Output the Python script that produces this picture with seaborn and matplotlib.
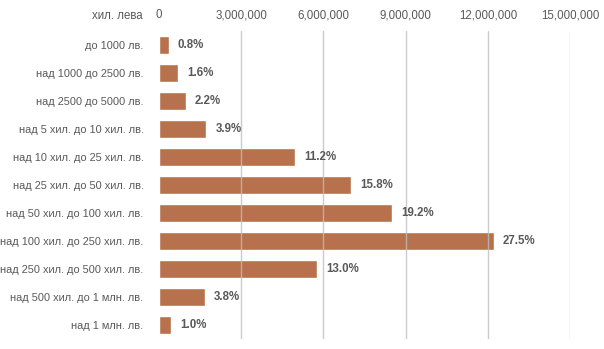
import matplotlib
matplotlib.use("Agg")
import matplotlib.pyplot as plt
import matplotlib.ticker as mticker
import seaborn as sns
import pandas as pd

categories = [
    "до 1000 лв.",
    "над 1000 до 2500 лв.",
    "над 2500 до 5000 лв.",
    "над 5 хил. до 10 хил. лв.",
    "над 10 хил. до 25 хил. лв.",
    "над 25 хил. до 50 хил. лв.",
    "над 50 хил. до 100 хил. лв.",
    "над 100 хил. до 250 хил. лв.",
    "над 250 хил. до 500 хил. лв.",
    "над 500 хил. до 1 млн. лв.",
    "над 1 млн. лв.",
]
# amounts in thousand leva
amounts = [355000, 710000, 977000, 1730000, 4970000, 7020000,
           8520000, 12210000, 5770000, 1690000, 444000]
shares = ["0.8%", "1.6%", "2.2%", "3.9%", "11.2%", "15.8%",
          "19.2%", "27.5%", "13.0%", "3.8%", "1.0%"]
xticks = [0, 3000000, 6000000, 9000000, 12000000, 15000000]

df = pd.DataFrame({"category": categories, "amount": amounts})

sns.set_theme(style="white")
plt.rcParams["font.family"] = ["Liberation Sans", "DejaVu Sans"]

fig = plt.figure(figsize=(6.04, 3.49), dpi=100)
ax = fig.add_axes([0.263, 0.029, 0.681, 0.882])

bar_color = "#B8714D"
sns.barplot(data=df, x="amount", y="category", orient="h", color=bar_color,
            saturation=1, width=0.65, ax=ax, zorder=2)

ax.set_xlim(0, 15000000)
ax.set_xticks(xticks)
ax.xaxis.set_major_formatter(mticker.FuncFormatter(lambda v, p: f"{int(v):,}"))
ax.xaxis.tick_top()
ax.tick_params(axis="x", length=0, pad=7, labelsize=8.3, colors="#595959")
ax.tick_params(axis="y", length=0, pad=11, labelsize=7.9, colors="#595959")
ax.set_xlabel("")
ax.set_ylabel("")

for x in xticks[1:]:
    ax.axvline(x, color="#BFBFBF", lw=1.0, alpha=0.8, zorder=3)

for sp in ax.spines.values():
    sp.set_visible(False)

for i, (v, s) in enumerate(zip(amounts, shares)):
    ax.annotate(s, xy=(v, i), xytext=(6.5, 0), textcoords="offset points",
                va="center", ha="left", fontsize=8.3, fontweight="bold",
                color="#595959")

fig.text(143 / 604, 1 - 16 / 349, "хил. лева", ha="right", va="center",
         fontsize=8.3, color="#595959")

fig.savefig("out.png", dpi=100, facecolor="white")
